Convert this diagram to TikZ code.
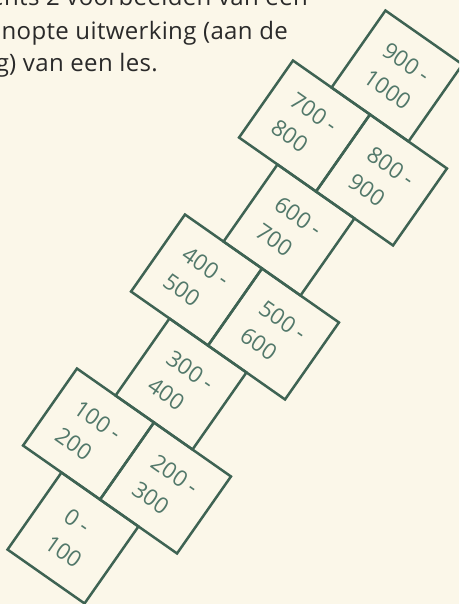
\documentclass[tikz,border=0pt]{standalone}
\usepackage{fontspec}
\setmainfont{Open Sans}
\newfontfamily\topfont[LetterSpace=1.5]{Open Sans}
\newfontfamily\tilefont{Open Sans}
\definecolor{bg}{HTML}{FBF7E9}
\definecolor{tileline}{HTML}{3E6353}
\definecolor{tiletext}{HTML}{52786A}
\definecolor{toptext}{HTML}{2A2A2A}
\begin{document}
\begin{tikzpicture}[x=1pt,y=-1pt,
  tile/.style={draw=tileline, line width=2.5pt, rotate=-35,
    minimum width=94pt, minimum height=94pt, inner sep=0pt,
    align=left, font=\tilefont\fontsize{22.5}{33}\selectfont, text=tiletext},
  topline/.style={anchor=base east, inner sep=0pt,
    font=\topfont\fontsize{24}{33}\selectfont, text=toptext}]
\useasboundingbox (0,0) rectangle (459,604);
\fill[bg] (0,0) rectangle (459,604);
\clip (0,0) rectangle (459,604);
% top text
\node[topline] (l1) at (308,6) {ents 2 voorbeelden van een};
\node[topline] (l2) at (288,39.5) {nopte uitwerking (aan de};
\node[topline] (l3) at (158,72) {g) van een les.};
% tiles
\node[tile] (t0) at (73,538) {0 -\\100};
\node[tile] (t1) at (88.5,434) {100 -\\200};
\node[tile] (t2) at (165.5,488) {200 -\\300};
\node[tile] (t3) at (181,384) {300 -\\400};
\node[tile] (t4) at (196.5,280) {400 -\\500};
\node[tile] (t5) at (273.5,334) {500 -\\600};
\node[tile] (t6) at (289,230) {600 -\\700};
\node[tile] (t7) at (304.5,126) {700 -\\800};
\node[tile] (t8) at (381.5,180) {800 -\\900};
\node[tile] (t9) at (397,76) {900 -\\1000};
\end{tikzpicture}
\end{document}
